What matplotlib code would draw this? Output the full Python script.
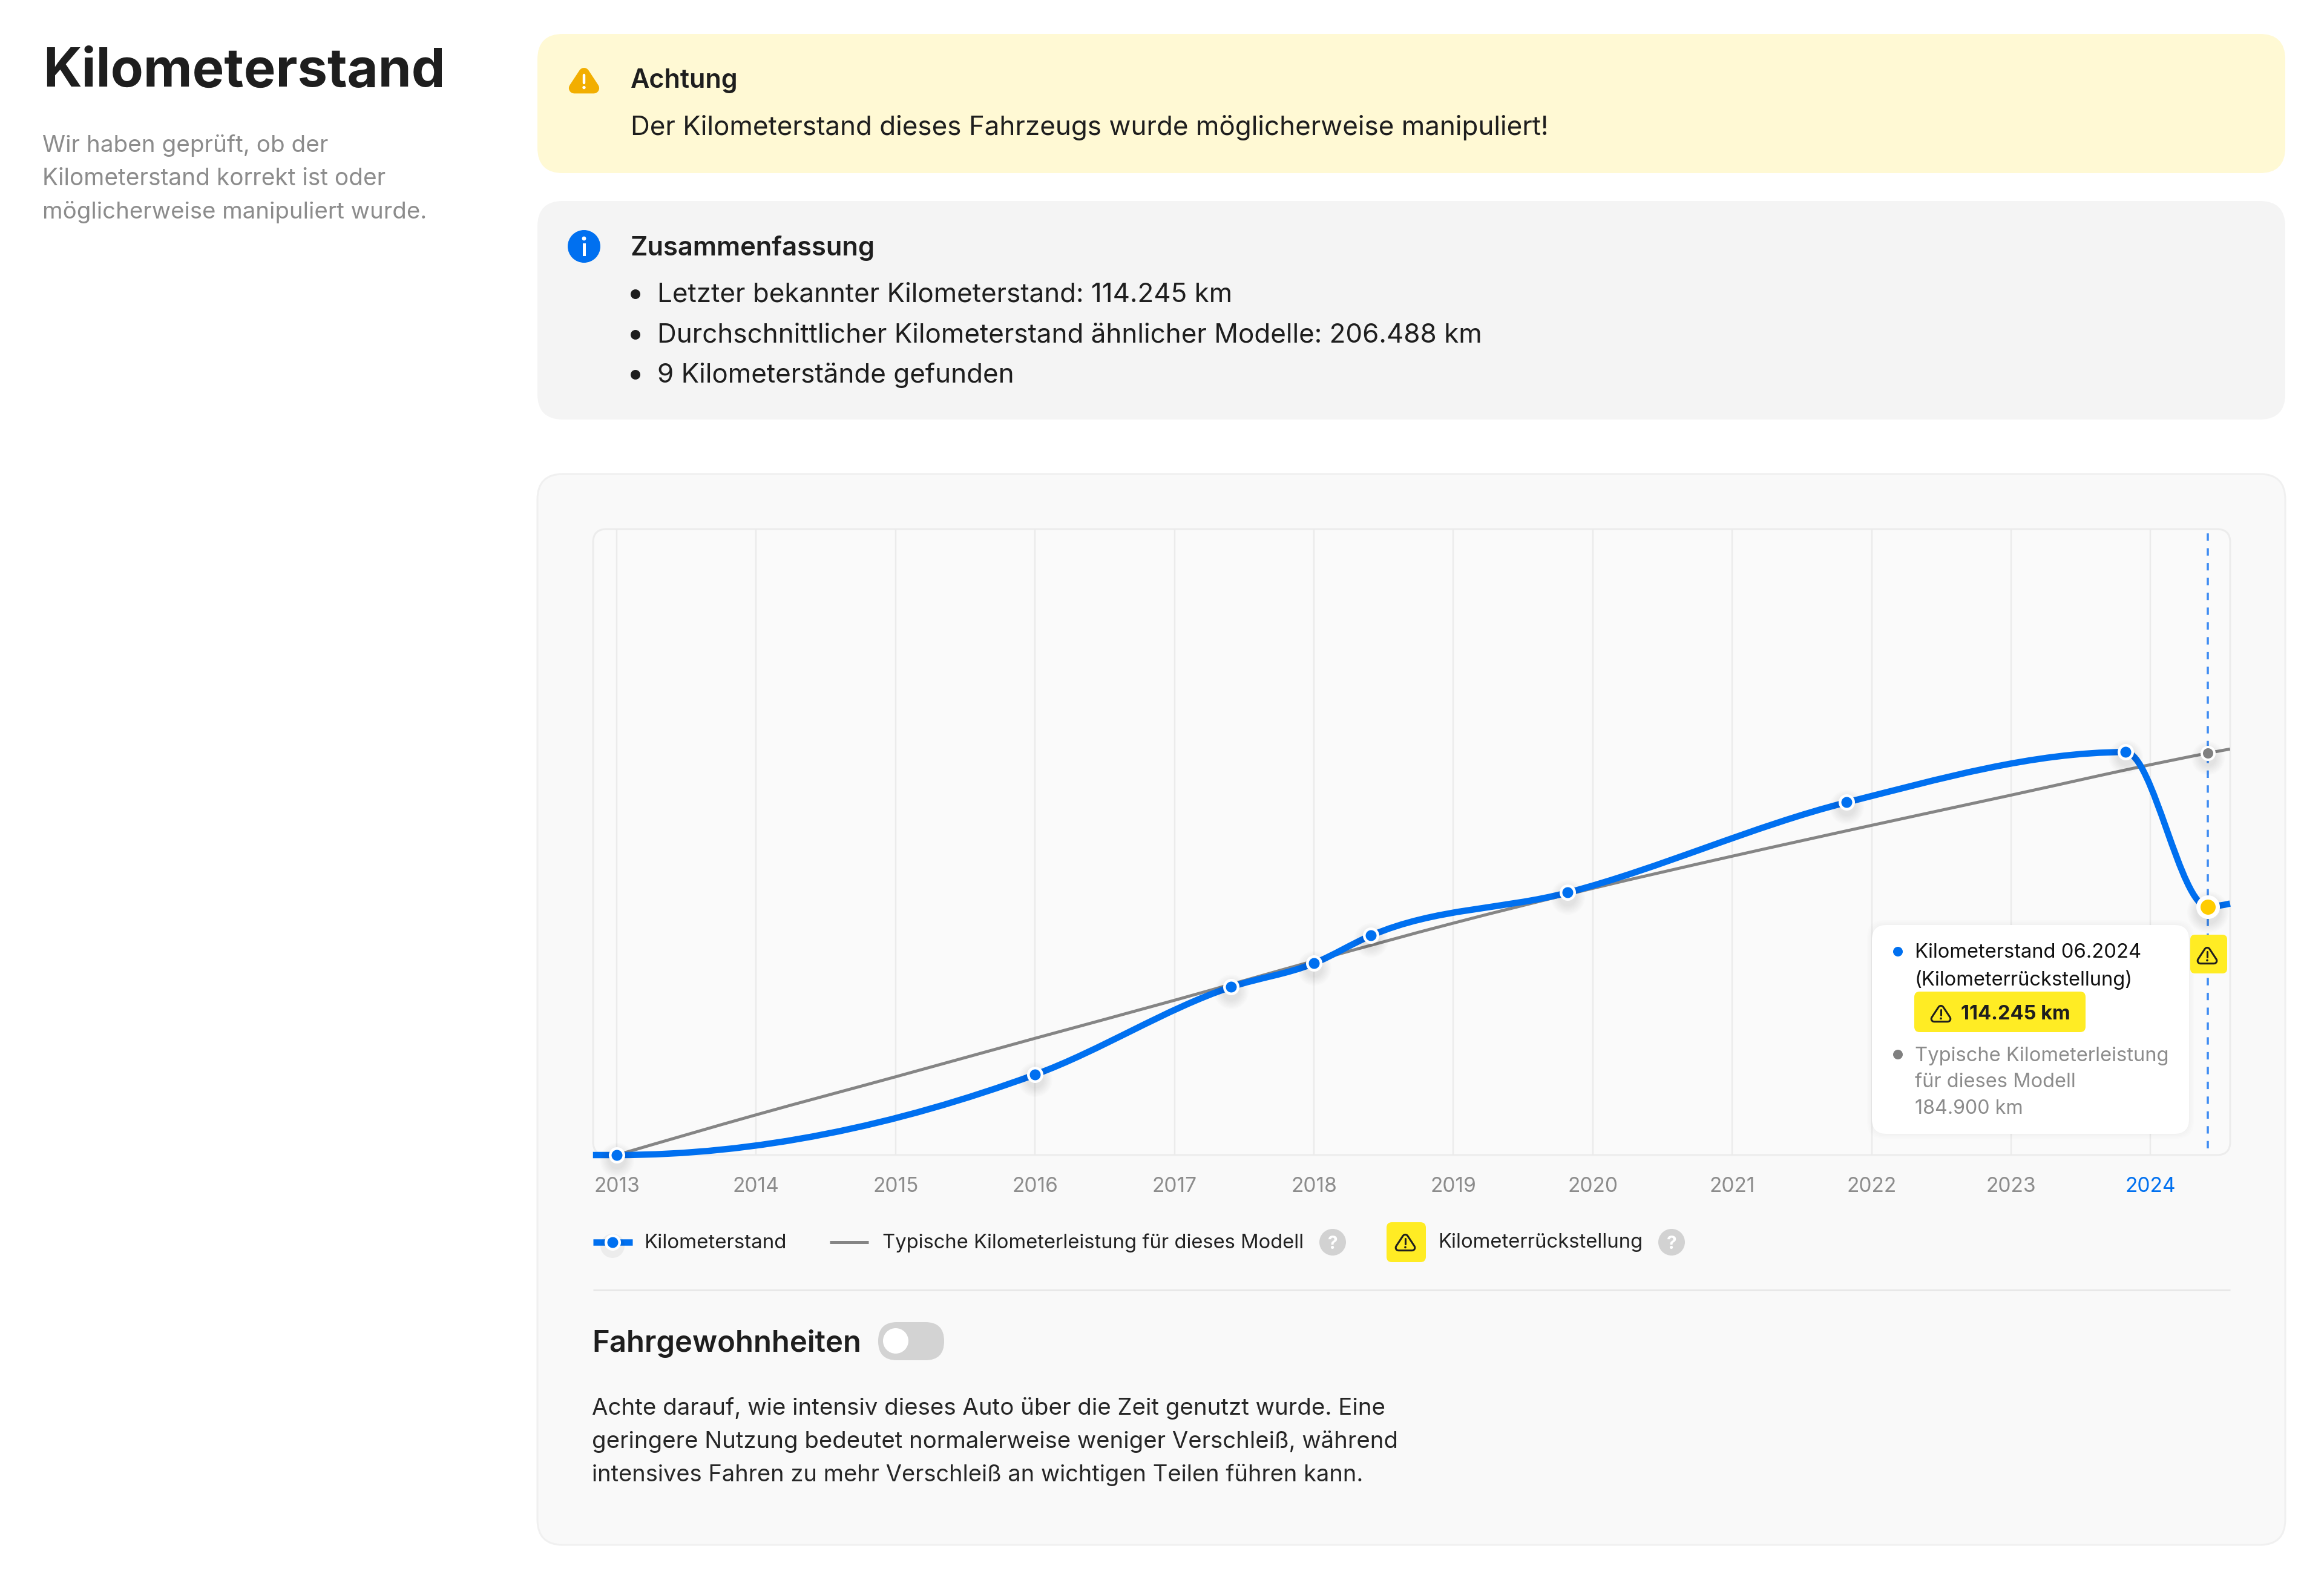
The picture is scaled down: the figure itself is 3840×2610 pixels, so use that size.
import numpy as np
import matplotlib
matplotlib.use("Agg")
import matplotlib.pyplot as plt
from matplotlib.patches import FancyBboxPatch, Circle, Polygon, PathPatch
from matplotlib.path import Path
from matplotlib.lines import Line2D

plt.rcParams['font.family'] = ['Inter', 'DejaVu Sans']

# ---- data -------------------------------------------------------------
year_ticks = [2013, 2014, 2015, 2016, 2017, 2018, 2019, 2020, 2021, 2022, 2023, 2024]
reading_years = [2013.0, 2016.0, 2017.405, 2018.0, 2018.41, 2019.82, 2021.82, 2023.82, 2024.41]
reading_km = [0, 37000, 77300, 88200, 101000, 120750, 162250, 185400, 114245]
line_start_year = 2012.83
line_start_km = 0
line_end_year = 2024.57
line_end_km = 115700
typical_years = [2013, 2014, 2015, 2016, 2017, 2018, 2019, 2020, 2021, 2022, 2023, 2024, 2024.41, 2024.57]
typical_km = [0, 18500, 36000, 53700, 71200, 89300, 106700, 122700, 137500, 151700, 165600, 179600, 184900, 186800]
x_range = (2012.831, 2024.571)
y_range = (0, 288000)

W, H = 3840, 2610
BLUE = '#0070F0'
GREY_LINE = '#858585'
GREY_TXT = '#8C8C8C'
DARK = '#1E1E1E'
TAG = '#FFEC24'


def monotone_path(xs, ys):
    """Monotone cubic (d3 curveMonotoneX) through the given values."""
    xs, ys = np.asarray(xs, float), np.asarray(ys, float)
    h = np.diff(xs)
    s = np.diff(ys) / h
    m = np.zeros_like(xs)
    for i in range(1, len(xs) - 1):
        p = (s[i - 1] * h[i] + s[i] * h[i - 1]) / (h[i - 1] + h[i])
        m[i] = (np.sign(s[i - 1]) + np.sign(s[i])) * min(abs(s[i - 1]), abs(s[i]), 0.5 * abs(p))
    m[0] = (3 * s[0] - m[1]) / 2
    m[-1] = (3 * s[-1] - m[-2]) / 2
    verts = [(xs[0], ys[0])]
    codes = [Path.MOVETO]
    for i in range(len(h)):
        d = h[i] / 3
        verts += [(xs[i] + d, ys[i] + m[i] * d), (xs[i + 1] - d, ys[i + 1] - m[i + 1] * d), (xs[i + 1], ys[i + 1])]
        codes += [Path.CURVE4] * 3
    return Path(verts, codes)


fig = plt.figure(figsize=(W / 100, H / 100), dpi=100, facecolor='white')
rend = fig.canvas.get_renderer()
PT = 0.72  # pt per px


def layer(z):
    a = fig.add_axes([0, 0, 1, 1], zorder=z)
    a.set_xlim(0, W)
    a.set_ylim(H, 0)
    a.axis('off')
    return a


bg = layer(0)
top = layer(5)


def rbox(a, x0, y0, x1, y1, r, fc, ec='none', lw=0, z=1):
    p = FancyBboxPatch((x0 + r, y0 + r), x1 - x0 - 2 * r, y1 - y0 - 2 * r,
                       boxstyle=f"round,pad={r},rounding_size={r}", fc=fc, ec=ec, lw=lw * PT, zorder=z)
    a.add_patch(p)
    return p


def txt(a, x0, x1, yc, s, size, color=DARK, weight='normal', z=5):
    """Left aligned text of px height `size`, tuned to span x0..x1."""
    x0, x1, yc = x0 - 1.5, x1 - 2.5, yc - 1.5
    t = a.text(x0, yc, s, fontsize=size * PT, color=color, fontweight=weight,
               va='center_baseline', ha='left', zorder=z)
    w = t.get_window_extent(rend).width
    t.set_fontsize(size * PT * (x1 - x0) / w)
    return t


def warn(a, cx, cy, w, fill=None, stroke=DARK, mark=DARK, back=TAG, z=6):
    h = w * 0.9
    R = w * 0.17
    pts = [(cx, cy - h / 2 + R * 1.5), (cx + w / 2 - R * 1.1, cy + h / 2 - R), (cx - w / 2 + R * 1.1, cy + h / 2 - R)]
    lw = w * 0.085
    if fill is not None:
        a.add_patch(Polygon(pts, closed=True, fc=fill, ec=fill, lw=2 * R * PT, joinstyle='round', zorder=z))
    else:
        a.add_patch(Polygon(pts, closed=True, fc=stroke, ec=stroke, lw=2 * R * PT, joinstyle='round', zorder=z))
        a.add_patch(Polygon(pts, closed=True, fc=back, ec=back, lw=2 * (R - lw) * PT, joinstyle='round', zorder=z))
    a.add_line(Line2D([cx, cx], [cy - h * 0.16, cy + h * 0.12], color=mark, lw=lw * PT, solid_capstyle='round', zorder=z + 1))
    a.add_patch(Circle((cx, cy + h * 0.29), lw * 0.6, fc=mark, ec='none', zorder=z + 1))


def question(a, cx, cy):
    a.add_patch(Circle((cx, cy), 22, fc='#D2D2D2', ec='none', zorder=3))
    a.text(cx, cy, '?', color='white', fontsize=30 * PT, fontweight='bold', ha='center', va='center_baseline', zorder=4)


# ---- panels -----------------------------------------------------------
rbox(bg, 888, 56, 3776, 286, 42, '#FFF9D4')
rbox(bg, 888, 332, 3776, 693, 42, '#F4F4F4')
rbox(bg, 888, 783, 3776, 2552, 42, '#F9F9F9', ec='#F0F0F0', lw=3)
rbox(bg, 980, 874, 3685, 1908, 22, '#FAFAFA', ec='#ECECEC', lw=3, z=2)

# ---- left column ------------------------------------------------------
txt(top, 73, 739, 112, 'Kilometerstand', 88, color=DARK, weight='bold')
for s, e, y in [('Wir haben geprüft, ob der', 544, 238),
                ('Kilometerstand korrekt ist oder', 639, 293),
                ('möglicherweise manipuliert wurde.', 705, 348)]:
    txt(top, 72, e, y, s, 38, color=GREY_TXT)

# ---- alert boxes ------------------------------------------------------
warn(top, 965, 131, 52, fill='#F2AE00', mark='white')
txt(top, 1043, 1222, 130, 'Achtung', 44, weight='semibold')
txt(top, 1043, 2559, 208, 'Der Kilometerstand dieses Fahrzeugs wurde möglicherweise manipuliert!', 44)

top.add_patch(Circle((965, 407), 27, fc=BLUE, ec='none', zorder=6))
top.add_line(Line2D([965, 965], [404, 420], color='white', lw=5 * PT, zorder=7))
top.add_patch(Circle((965, 394), 3.4, fc='white', ec='none', zorder=7))
txt(top, 1043, 1449, 407, 'Zusammenfassung', 44, weight='semibold')
for s, e, y in [('Letzter bekannter Kilometerstand: 114.245 km', 2038, 484),
                ('Durchschnittlicher Kilometerstand ähnlicher Modelle: 206.488 km', 2451, 551),
                ('9 Kilometerstände gefunden', 1678, 617)]:
    top.add_patch(Circle((1050, y + 2), 8, fc=DARK, ec='none', zorder=6))
    txt(top, 1088, e, y, s, 44)

# ---- chart ------------------------------------------------------------
ax = fig.add_axes([980 / W, 1 - 1908 / H, (3685 - 980) / W, (1908 - 874) / H], zorder=2)
ax.patch.set_alpha(0)
ax.set_xlim(*x_range)
ax.set_ylim(*y_range)
for sp in ax.spines.values():
    sp.set_visible(False)
ax.set_yticks([])
ax.set_xticks(year_ticks)
ax.set_xticklabels([str(y) for y in year_ticks])
ax.tick_params(axis='x', length=0, pad=36 * PT, labelsize=33.5 * PT, labelcolor=GREY_TXT)
ax.get_xticklabels()[-1].set_color(BLUE)
ax.grid(axis='x', color='#EBEBEB', lw=2.5 * PT, zorder=1)
ax.set_axisbelow(True)

ax.add_patch(PathPatch(monotone_path(typical_years, typical_km), fc='none', ec=GREY_LINE,
                       lw=5 * PT, zorder=3, capstyle='butt', clip_on=True))
xs = [line_start_year] + reading_years + [line_end_year]
ys = [line_start_km] + reading_km + [line_end_km]
ax.add_patch(PathPatch(monotone_path(xs, ys), fc='none', ec=BLUE, lw=10.5 * PT, zorder=4,
                       capstyle='butt', clip_on=False))

ax.plot([reading_years[-1]] * 2, [3000, y_range[1]], color='#3F8CF2', lw=3.6 * PT,
        dashes=(3.4, 3.4), zorder=2, clip_on=False)


def shadow(x, y, d):
    offset = matplotlib.transforms.ScaledTranslation(0, -8 / 100, fig.dpi_scale_trans)
    for k in range(8):
        ax.plot([x], [y], 'o', ms=(d + 30 - 4 * k) * PT, mfc='black', mec='none', alpha=0.012,
                zorder=4.5, clip_on=False, transform=ax.transData + offset)


for x, y in zip(reading_years[:-1], reading_km[:-1]):
    shadow(x, y, 27)
ax.plot(reading_years[:-1], reading_km[:-1], 'o', ms=22.5 * PT, mfc=BLUE, mec='white', mew=4.5 * PT,
        zorder=5, clip_on=False)
shadow(reading_years[-1], typical_km[-2], 25)
ax.plot(reading_years[-1:], typical_km[-2:-1], 'o', ms=21 * PT, mfc='#808080', mec='white', mew=4 * PT,
        zorder=5, clip_on=False)
shadow(reading_years[-1], reading_km[-1], 39)
ax.plot(reading_years[-1:], reading_km[-1:], 'o', ms=32 * PT, mfc='#FFCC00', mec='white', mew=7 * PT,
        zorder=5, clip_on=False)

# ---- flag and tooltip -------------------------------------------------
rbox(top, 3619, 1544, 3680, 1608, 8, TAG, z=3)
warn(top, 3647, 1577, 36)
for k in range(4):
    rbox(top, 3093 - 8 + 2 * k, 1528 - 8 + 2 * k, 3617 + 8 - 2 * k, 1873 + 8 - 2 * k, 28, 'black', z=2).set_alpha(0.006)
rbox(top, 3093, 1528, 3617, 1873, 24, 'white', z=3)
top.add_patch(Circle((3136, 1572), 8, fc=BLUE, ec='none', zorder=4))
txt(top, 3165, 3540, 1572, 'Kilometerstand 06.2024', 32, color='#111111')
txt(top, 3165, 3527, 1617, '(Kilometerrückstellung)', 32, color='#111111')
rbox(top, 3163, 1638, 3446, 1705, 9, TAG, z=4)
warn(top, 3207, 1673, 36)
txt(top, 3241, 3423, 1673, '114.245 km', 32, weight='bold')
top.add_patch(Circle((3136, 1742), 8, fc='#808080', ec='none', zorder=4))
txt(top, 3165, 3586, 1743, 'Typische Kilometerleistung', 32, color=GREY_TXT)
txt(top, 3165, 3432, 1786, 'für dieses Modell', 32, color=GREY_TXT)
txt(top, 3165, 3345, 1830, '184.900 km', 32, color=GREY_TXT)

# ---- legend -----------------------------------------------------------
top.add_line(Line2D([980, 1045], [2052, 2052], color=BLUE, lw=10.5 * PT, zorder=3, solid_capstyle='butt'))
top.add_patch(Circle((1012, 2058), 20, fc='black', ec='none', alpha=0.05, zorder=3))
top.add_line(Line2D([1012], [2052], marker='o', ms=22.5 * PT, mfc=BLUE, mec='white', mew=4.5 * PT, zorder=4))
txt(top, 1066, 1303, 2051, 'Kilometerstand', 32, color='#222222')
top.add_line(Line2D([1371, 1435], [2052, 2052], color=GREY_LINE, lw=5 * PT, zorder=3, solid_capstyle='butt'))
txt(top, 1459, 2157, 2051, 'Typische Kilometerleistung für dieses Modell', 32, color='#222222')
question(top, 2202, 2052)
rbox(top, 2291, 2019, 2356, 2085, 9, TAG, z=3)
warn(top, 2322, 2051, 36)
txt(top, 2378, 2718, 2051, 'Kilometerrückstellung', 32, color='#222222')
question(top, 2762, 2052)
top.add_line(Line2D([980, 3685], [2131, 2131], color='#E8E8E8', lw=3 * PT, zorder=3, solid_capstyle='butt'))

# ---- lower section ----------------------------------------------------
txt(top, 980, 1426, 2216, 'Fahrgewohnheiten', 48, weight='semibold')
rbox(top, 1451, 2184, 1560, 2247, 31, '#D3D3D3', z=3)
top.add_patch(Circle((1480, 2215), 21, fc='white', ec='none', zorder=4))
for s, e, y in [('Achte darauf, wie intensiv dieses Auto über die Zeit genutzt wurde. Eine', 2288, 2324),
                ('geringere Nutzung bedeutet normalerweise weniger Verschleiß, während', 2306, 2379),
                ('intensives Fahren zu mehr Verschleiß an wichtigen Teilen führen kann.', 2255, 2434)]:
    txt(top, 980, e, y, s, 38, color='#262626')

fig.savefig('out.png', dpi=100, facecolor='white')
